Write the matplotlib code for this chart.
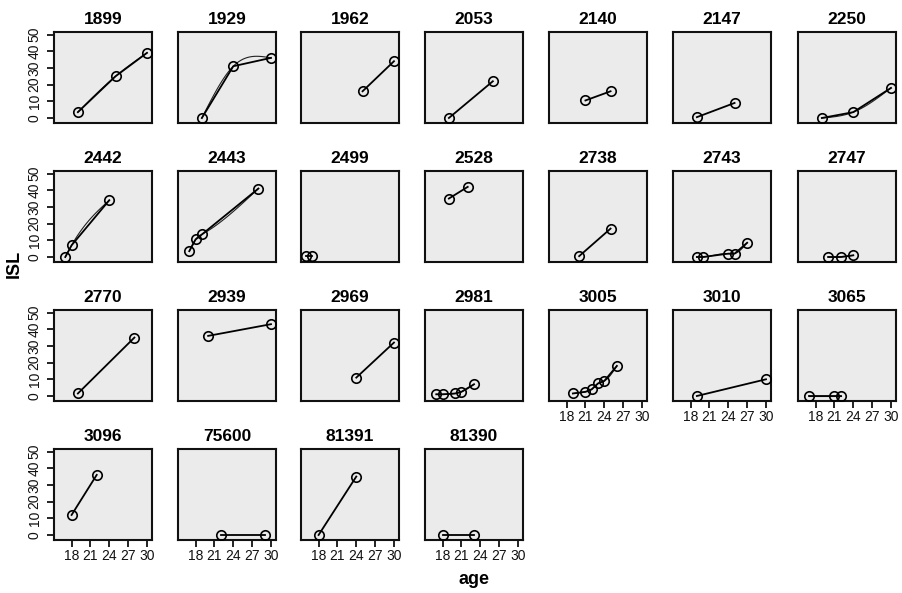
import numpy as np
import matplotlib
matplotlib.use("Agg")
import matplotlib.pyplot as plt
from matplotlib import font_manager

plt.rcParams['font.family'] = ['Liberation Sans', 'DejaVu Sans']

ids = ["1899", "1929", "1962", "2053", "2140", "2147", "2250",
       "2442", "2443", "2499", "2528", "2738", "2743", "2747",
       "2770", "2939", "2969", "2981", "3005", "3010", "3065",
       "3096", "75600", "81391", "81390"]

ages = [[19, 25, 30], [19, 24, 30], [25, 30], [19, 26], [21, 25], [19, 25], [19, 24, 30],
        [17, 18, 24], [17, 18, 19, 28], [16, 17], [19, 22], [20, 25], [19, 20, 24, 25, 27], [20, 22, 24],
        [19, 28], [20, 30], [24, 30], [17, 18, 20, 21, 23], [19, 21, 22, 23, 24, 26], [19, 30], [17, 21, 22],
        [18, 22], [22, 29], [18, 24], [18, 23]]

isl = [[3.5, 25, 39], [0, 31, 36], [16, 34], [0, 22], [10.5, 16], [0.5, 9], [0, 3.5, 18],
       [0, 7, 34], [3.5, 10.5, 13.5, 41], [0.5, 0.5], [35, 42], [0.5, 17], [0, 0, 2, 2, 8.5], [0, 0, 1],
       [1.5, 35], [36, 43], [11, 32], [1, 1, 1.5, 2.5, 7], [1.5, 2.5, 4, 7.5, 9, 18], [0, 10], [0, 0, 0],
       [12, 36], [0, 0], [0, 35], [0, 0]]

x_ticks = [18, 21, 24, 27, 30]
y_ticks = [0, 10, 20, 30, 40, 50]

installed = {f.name for f in font_manager.fontManager.ttflist}
if 'Liberation Sans Narrow' in installed:
    tick_family, tick_size = ['Liberation Sans Narrow', 'DejaVu Sans'], 11.5
else:
    tick_family, tick_size = ['Liberation Sans', 'DejaVu Sans'], 10


def natural_spline(x, y, xs):
    """Interpolating natural cubic spline through the data points."""
    n = len(x)
    h = np.diff(x)
    A = np.zeros((n, n))
    b = np.zeros(n)
    A[0, 0] = A[-1, -1] = 1.0
    for k in range(1, n - 1):
        A[k, k - 1] = h[k - 1]
        A[k, k] = 2 * (h[k - 1] + h[k])
        A[k, k + 1] = h[k]
        b[k] = 6 * ((y[k + 1] - y[k]) / h[k] - (y[k] - y[k - 1]) / h[k - 1])
    M = np.linalg.solve(A, b)
    out = np.empty_like(xs)
    idx = np.clip(np.searchsorted(x, xs) - 1, 0, n - 2)
    for j, (xv, k) in enumerate(zip(xs, idx)):
        hk = h[k]
        a = x[k + 1] - xv
        c = xv - x[k]
        out[j] = (M[k] * a ** 3 + M[k + 1] * c ** 3) / (6 * hk) \
            + (y[k] / hk - M[k] * hk / 6) * a + (y[k + 1] / hk - M[k + 1] * hk / 6) * c
    return out


W, H = 902, 593
fig = plt.figure(figsize=(W / 100, H / 100), dpi=100)

col_left = [54, 178, 301, 425, 549, 673, 798]
row_top = [32, 171, 310, 449]
pw, ph = 98, 91
ncol = 7
n = len(ids)

for i, name in enumerate(ids):
    r, c = divmod(i, ncol)
    l, t = col_left[c], row_top[r]
    ax = fig.add_axes([l / W, 1 - (t + ph) / H, pw / W, ph / H])
    ax.set_facecolor('#ebebeb')
    x = np.array(ages[i], dtype=float)
    y = np.array(isl[i], dtype=float)
    ax.plot(x, y, color='black', lw=1.3, zorder=3)
    if len(x) >= 3:
        xs = np.linspace(x.min(), x.max(), 120)
        ax.plot(xs, natural_spline(x, y, xs), color='#222222', lw=0.8, zorder=2)
    ax.plot(x, y, 'o', ms=6.8, mfc='none', mec='black', mew=1.2, zorder=4)
    ax.set_xlim(15.2, 30.8)
    ax.set_ylim(-3, 51.5)
    for s in ax.spines.values():
        s.set_linewidth(1.5)
        s.set_color('#111111')
    ax.set_title(name, fontsize=12.5, fontweight='bold', pad=5.5)
    show_x = i + ncol >= n
    show_y = c == 0
    if show_x:
        ax.set_xticks(x_ticks)
        ax.set_xticklabels([str(v) for v in x_ticks], family=tick_family)
        ax.tick_params(axis='x', length=5, width=1.3, pad=1.5, labelsize=tick_size,
                       colors='#111111')
    else:
        ax.set_xticks([])
    if show_y:
        ax.set_yticks(y_ticks)
        ax.set_yticklabels([str(v) for v in y_ticks], rotation=90, va='center',
                           family=tick_family)
        ax.tick_params(axis='y', length=5, width=1.3, pad=4, labelsize=tick_size,
                       colors='#111111')
    else:
        ax.set_yticks([])

fig.text(14 / W, 1 - 264 / H, 'ISL', rotation=90, fontsize=13, fontweight='bold',
         ha='center', va='center')
fig.text(474 / W, 1 - 580 / H, 'age', fontsize=13, fontweight='bold',
         ha='center', va='center')

fig.savefig('out.png', dpi=100, facecolor='white')
